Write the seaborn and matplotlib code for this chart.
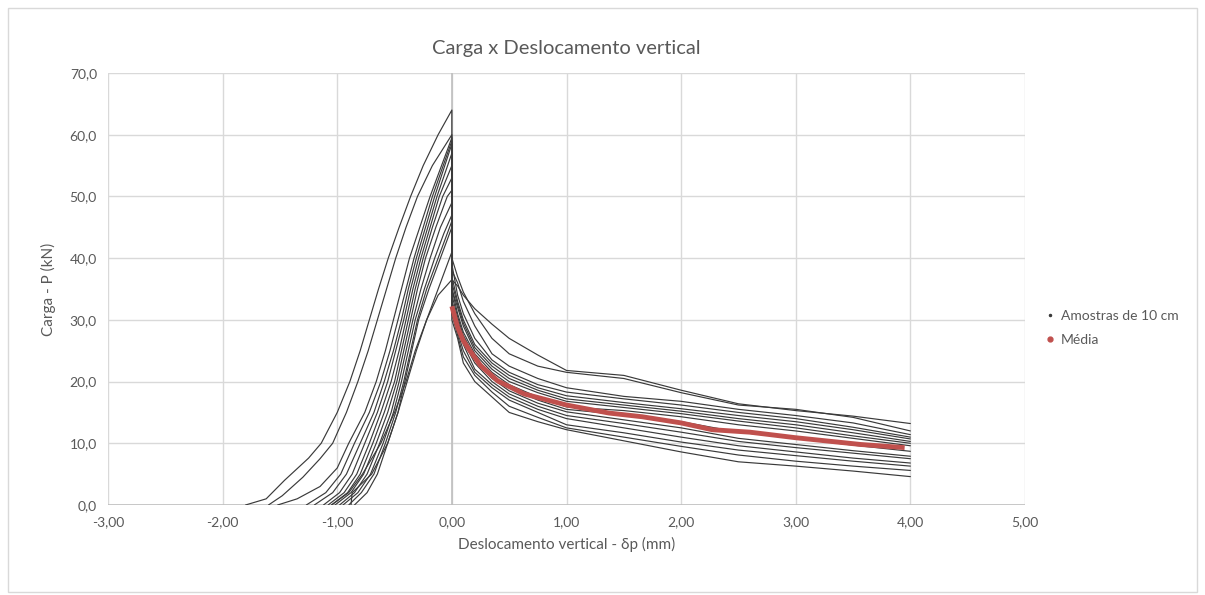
import numpy as np
import pandas as pd
import matplotlib
matplotlib.use("Agg")
import matplotlib.pyplot as plt
from matplotlib.lines import Line2D
from matplotlib.patches import Rectangle
from matplotlib.ticker import FuncFormatter
import seaborn as sns

# ---------------- data ----------------
# pre-peak branches (x in mm, load in kN), each ends at its peak at x = 0
pre_x = [
    [-1.80, -1.62, -1.46, -1.25, -1.14, -1.00, -0.89, -0.80, -0.72, -0.64, -0.555, -0.46, -0.36, -0.25, -0.12, 0.0],
    [-1.60, -1.48, -1.30, -1.15, -1.04, -0.92, -0.82, -0.73, -0.65, -0.57, -0.49, -0.40, -0.30, -0.17, 0.0],
    [-1.52, -1.35, -1.15, -1.00, -0.90, -0.76, -0.66, -0.58, -0.51, -0.44, -0.37, -0.28, -0.19, 0.0],
    [-1.27, -1.10, -0.97, -0.85, -0.72, -0.62, -0.54, -0.47, -0.40, -0.33, -0.25, -0.17, 0.0],
    [-1.20, -1.04, -0.92, -0.80, -0.68, -0.59, -0.51, -0.44, -0.38, -0.31, -0.23, -0.15, 0.0],
    [-1.12, -0.98, -0.87, -0.76, -0.65, -0.56, -0.49, -0.42, -0.36, -0.29, -0.21, -0.13, 0.0],
    [-1.08, -0.94, -0.83, -0.72, -0.62, -0.53, -0.46, -0.40, -0.34, -0.27, -0.19, -0.11, 0.0],
    [-1.05, -0.91, -0.80, -0.69, -0.59, -0.50, -0.44, -0.38, -0.32, -0.25, -0.17, -0.08, 0.0],
    [-1.02, -0.88, -0.77, -0.66, -0.56, -0.48, -0.42, -0.36, -0.30, -0.23, -0.14, -0.04, 0.0],
    [-0.98, -0.85, -0.74, -0.63, -0.53, -0.46, -0.40, -0.34, -0.27, -0.19, -0.10, 0.0],
    [-0.95, -0.82, -0.71, -0.60, -0.51, -0.44, -0.38, -0.32, -0.24, -0.15, -0.07, 0.0],
    [-0.90, -0.79, -0.68, -0.58, -0.49, -0.42, -0.36, -0.30, -0.22, -0.12, -0.06, 0.0],
    [-0.88, -0.87, -0.70, -0.56, -0.47, -0.41, -0.35, -0.29, -0.20, -0.10, -0.04, 0.0],
    [-0.85, -0.74, -0.65, -0.56, -0.47, -0.39, -0.31, -0.22, -0.12, -0.04, 0.0],
    [-1.05, -0.90, -0.78, -0.62, -0.50, -0.40, -0.32, -0.22, -0.12, 0.0],
]
pre_y = [
    [0, 1, 4, 7.6, 10, 15, 20, 25, 30, 35, 40, 45, 50, 55, 60, 64],
    [0, 1.5, 4.5, 7.5, 10, 15, 20, 25, 30, 35, 40, 45, 50, 55, 60],
    [0, 1, 3, 6, 10, 15, 20, 25, 30, 35, 40, 45, 50, 59.5],
    [0, 2, 5, 10, 15, 20, 25, 30, 35, 40, 45, 50, 59],
    [0, 2, 5, 10, 15, 20, 25, 30, 35, 40, 45, 50, 58.5],
    [0, 2, 5, 10, 15, 20, 25, 30, 35, 40, 45, 50, 57],
    [0, 2, 5, 10, 15, 20, 25, 30, 35, 40, 45, 50, 55],
    [0, 2, 5, 10, 15, 20, 25, 30, 35, 40, 45, 50, 53],
    [0, 2, 5, 10, 15, 20, 25, 30, 35, 40, 45, 50, 51],
    [0, 2, 5, 10, 15, 20, 25, 30, 35, 40, 45, 49],
    [0, 2, 5, 10, 15, 20, 25, 30, 35, 40, 44, 47],
    [0, 2, 5, 10, 15, 20, 25, 30, 35, 40, 43, 46],
    [0, 2, 5, 10, 15, 20, 25, 30, 35, 40, 43, 45],
    [0, 2, 5, 10, 15, 20, 25, 30, 35, 39, 41],
    [0, 2, 5, 10, 15, 20, 25, 30, 34, 36.5],
]
# post-peak branches, sampled at these displacements (same order as pre-peak)
post_x = [0.0, 0.05, 0.1, 0.2, 0.35, 0.5, 0.75, 1.0, 1.5, 2.0, 2.5, 3.0, 3.5, 4.0]
post_y = [
    [37.0, 33.0, 30.0, 26.0, 23.0, 21.0, 19.0, 17.7, 16.6, 15.6, 14.5, 13.5, 12.2, 10.7],
    [38.0, 36.0, 33.0, 29.0, 24.5, 22.5, 20.5, 19.0, 17.6, 16.8, 15.5, 14.5, 13.3, 11.4],
    [39.0, 34.0, 31.0, 27.0, 23.5, 21.5, 19.5, 18.3, 17.2, 16.2, 15.0, 14.0, 12.6, 11.0],
    [36.0, 32.5, 29.5, 25.5, 22.5, 20.5, 18.6, 17.2, 16.2, 15.2, 14.0, 13.0, 11.7, 10.3],
    [35.0, 32.0, 29.0, 25.0, 22.0, 20.0, 18.2, 16.8, 15.8, 14.8, 13.6, 12.5, 11.2, 10.0],
    [35.0, 31.0, 28.0, 24.5, 21.5, 19.5, 17.5, 15.9, 15.3, 14.3, 13.0, 12.0, 10.8, 9.6],
    [34.0, 30.5, 27.5, 24.0, 21.0, 19.0, 17.0, 15.5, 14.6, 13.5, 11.8, 10.8, 9.7, 8.7],
    [33.0, 30.0, 27.0, 23.5, 20.5, 18.5, 16.5, 15.1, 13.8, 12.5, 10.8, 9.8, 8.8, 7.9],
    [33.0, 29.5, 26.5, 23.0, 20.0, 18.0, 16.0, 14.5, 13.2, 11.8, 10.3, 9.3, 8.4, 7.5],
    [32.0, 29.0, 26.0, 22.0, 19.5, 17.5, 15.5, 14.0, 12.5, 11.0, 9.6, 8.6, 7.6, 6.8],
    [31.0, 28.0, 25.0, 21.5, 19.0, 17.0, 15.0, 13.0, 11.7, 10.2, 8.9, 8.0, 7.1, 6.3],
    [31.0, 27.5, 24.0, 21.0, 18.3, 16.0, 14.2, 12.5, 11.0, 9.5, 8.1, 7.1, 6.3, 5.6],
    [30.0, 27.0, 23.0, 20.0, 17.5, 15.0, 13.5, 12.2, 10.4, 8.6, 7.0, 6.3, 5.5, 4.6],
    [40.0, 37.0, 34.5, 31.0, 27.0, 24.5, 22.5, 21.5, 20.5, 18.2, 16.2, 15.5, 14.2, 12.0],
    [36.5, 35.5, 34.0, 31.8, 29.3, 27.0, 24.3, 21.8, 21.0, 18.6, 16.4, 15.3, 14.4, 13.2],
]
# mean curve
media_x = [0.0, 0.05, 0.10, 0.15, 0.25, 0.40, 0.63, 1.00, 1.37, 1.66, 2.00, 2.27, 2.60, 3.00, 3.57, 3.95]
media_y = [32.2, 28.8, 26.6, 25.2, 22.6, 20.1, 18.0, 16.2, 14.9, 14.3, 13.3, 12.2, 11.8, 10.9, 9.8, 9.3]

x_ticks = [-3, -2, -1, 0, 1, 2, 3, 4, 5]
y_ticks = [0, 10, 20, 30, 40, 50, 60, 70]
title = "Carga x Deslocamento vertical"
xlabel = "Deslocamento vertical - δp (mm)"
ylabel = "Carga - P (kN)"
labels = ["Amostras de 10 cm", "Média"]

# ---------------- build long table ----------------
rows = []
for i in range(len(pre_x)):
    xs = list(pre_x[i]) + list(post_x)
    ys = list(pre_y[i]) + list(post_y[i])
    for k, (a, b) in enumerate(zip(xs, ys)):
        rows.append({"amostra": i, "ordem": k, "x": a, "y": b})
df = pd.DataFrame(rows)
df_media = pd.DataFrame({"x": media_x, "y": media_y})

# ---------------- plot ----------------
sns.set_theme(style="white")
plt.rcParams["font.family"] = ["Lato", "DejaVu Sans"]

fig = plt.figure(figsize=(12.05, 5.95), dpi=100)
ax = fig.add_axes([108 / 1205, 1 - 505 / 595, (1025 - 108) / 1205, (505 - 73) / 595])

grid_c = "#D9D9D9"
txt_c = "#595959"
line_c = "#3A3A3A"
red_c = "#C0504D"

for xv in x_ticks:
    ax.axvline(xv, color=grid_c, lw=1.0, zorder=0)
for yv in y_ticks:
    ax.axhline(yv, color=grid_c, lw=1.0, zorder=0)
ax.axvline(0, color="#BFBFBF", lw=1.2, zorder=0.5)
ax.axhline(0, color="#BFBFBF", lw=1.2, zorder=0.5)

sns.lineplot(data=df, x="x", y="y", units="amostra", estimator=None, sort=False,
             color=line_c, lw=0.85, ax=ax, legend=False, zorder=2)
sns.lineplot(data=df_media, x="x", y="y", estimator=None, sort=False,
             color=red_c, lw=3.5, ax=ax, legend=False, zorder=3, solid_capstyle="butt")

ax.set_xlim(-3, 5)
ax.set_ylim(0, 70)
ax.set_xticks(x_ticks)
ax.set_yticks(y_ticks)
ax.xaxis.set_major_formatter(FuncFormatter(lambda v, p: f"{v:.2f}".replace(".", ",")))
ax.yaxis.set_major_formatter(FuncFormatter(lambda v, p: f"{v:.1f}".replace(".", ",")))
ax.tick_params(axis="both", length=0, labelsize=10, colors=txt_c, pad=8)
for s in ax.spines.values():
    s.set_visible(False)

ax.set_xlabel(xlabel, fontsize=11, color=txt_c, labelpad=6)
ax.set_ylabel(ylabel, fontsize=11, color=txt_c, labelpad=10)
ax.set_title(title, fontsize=14.5, color=txt_c, pad=14)

handles = [
    Line2D([], [], ls="none", marker="o", ms=1.5, color=line_c),
    Line2D([], [], ls="none", marker="o", ms=3.5, color=red_c),
]
leg = fig.legend(handles, labels, loc="center left",
                 bbox_to_anchor=(1033 / 1205, 1 - 328 / 595), frameon=False,
                 fontsize=10, labelcolor=txt_c, handlelength=0.6, handletextpad=0.5,
                 labelspacing=0.9)

fig.patches.append(Rectangle((8 / 1205, 3 / 595), 1189 / 1205, 584 / 595,
                             transform=fig.transFigure, fill=False,
                             edgecolor="#D9D9D9", lw=1.0))

fig.savefig("out.png", dpi=100)
